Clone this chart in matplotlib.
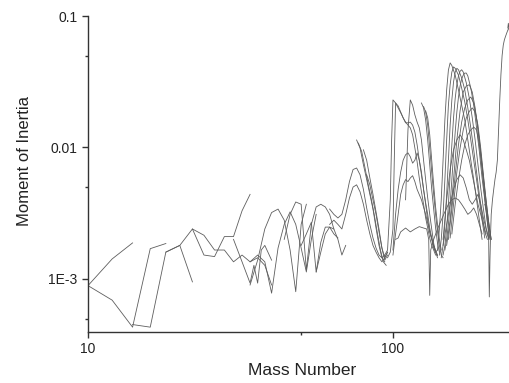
import matplotlib
matplotlib.use('Agg')
import matplotlib.pyplot as plt
from matplotlib.ticker import FixedLocator, FixedFormatter, NullFormatter

plt.rcParams['font.family'] = ['Liberation Sans', 'DejaVu Sans']

# ---------------- data (mass number A, moment of inertia I) ----------------
# light nuclei
s1_A = [10, 12, 14]
s1_I = [0.00089, 0.00142, 0.00188]
s2_A = [10, 12, 14, 16, 18]
s2_I = [0.00089, 0.00069, 0.00043, 0.0017, 0.00186]
s3_A = [14, 16, 18, 20, 22, 24, 26, 28, 30, 32, 34]
s3_I = [0.00045, 0.00043, 0.0016, 0.0018, 0.0024, 0.00152, 0.00148, 0.0021, 0.0021, 0.0033, 0.0044]
s4_A = [18, 20, 22]
s4_I = [0.0016, 0.0018, 0.00095]
s5_A = [22, 24, 26, 28, 30, 32, 34, 36, 38, 40]
s5_I = [0.0024, 0.00215, 0.00166, 0.00166, 0.00135, 0.00152, 0.00135, 0.00145, 0.00127, 0.0009]

# medium nuclei
mid1_A = [34, 36, 38, 40, 42, 44, 46, 48, 50, 52]
mid1_I = [0.0009, 0.00139, 0.0024, 0.0032, 0.0034, 0.0028, 0.00166, 0.0008, 0.0026, 0.0037]
mid2_A = [34, 36, 38, 40, 42, 44, 46, 48, 50, 52, 54, 56]
mid2_I = [0.00135, 0.00152, 0.00135, 0.00078, 0.00172, 0.0026, 0.00324, 0.0026, 0.00172, 0.00113, 0.002, 0.0031]
mid3_A = [30, 32, 34, 35, 36, 37, 38, 40]
mid3_I = [0.002, 0.00135, 0.00093, 0.00127, 0.00093, 0.00166, 0.0018, 0.00139]
mid4_A = [44, 46, 48, 50, 52, 54, 56, 58, 60, 62, 64]
mid4_I = [0.002, 0.0031, 0.00385, 0.0037, 0.00117, 0.0026, 0.00353, 0.0037, 0.00353, 0.0031, 0.0024]
mid5_A = [50, 52, 54, 56, 58, 60, 62, 64, 66]
mid5_I = [0.0018, 0.0022, 0.0027, 0.00113, 0.0019, 0.00248, 0.00248, 0.0022, 0.00205]

ar1_A = [62, 64, 66, 68, 70, 72, 74, 76, 78, 80, 82, 84, 86, 88, 90, 92, 94]
ar1_I = [0.0034, 0.0031, 0.00291, 0.0031, 0.004, 0.0055, 0.0068, 0.00698, 0.0062, 0.0048,
         0.00347, 0.0026, 0.00205, 0.00172, 0.00152, 0.00145, 0.00152]
ar2_A = [62, 64, 66, 68, 70, 72, 74, 76, 78, 80, 82, 84, 86, 88, 90, 92, 94, 96]
ar2_I = [0.0026, 0.0028, 0.0026, 0.0024, 0.0031, 0.00413, 0.005, 0.0052, 0.0046, 0.0037,
         0.0028, 0.0022, 0.0018, 0.0016, 0.00145, 0.00135, 0.00145, 0.0016]
ar3_A = [56, 58, 60, 62, 64, 66, 68, 70]
ar3_I = [0.00113, 0.0016, 0.0022, 0.00248, 0.0024, 0.002, 0.00152, 0.0018]

m1_A = [76, 78, 80, 82, 84, 86, 88, 90, 92, 94]
m1_I = [0.0114, 0.0099, 0.0074, 0.0057, 0.0044, 0.0034, 0.00244, 0.0018, 0.00145, 0.00135]
m2_A = [77, 79, 81, 83, 85, 87, 89, 91, 93, 95]
m2_I = [0.0108, 0.0093, 0.00698, 0.0052, 0.004, 0.003, 0.0022, 0.00166, 0.00135, 0.00127]
m3_A = [80, 82, 84, 86, 88, 90, 92, 94, 96]
m3_I = [0.0096, 0.008, 0.00586, 0.0044, 0.00324, 0.0024, 0.00172, 0.00145, 0.0016]
m4_A = [82, 84, 86, 88, 90, 92, 94, 96]
m4_I = [0.0062, 0.0052, 0.004, 0.0031, 0.00228, 0.00172, 0.00139, 0.00152]

# heavy nuclei
h1_A = [94, 96, 98, 99, 100, 102, 104, 106, 108, 110, 112, 114, 116, 118, 120, 122,
        124, 126, 128, 130, 132, 134, 136, 138]
h1_I = [0.00152, 0.00166, 0.004, 0.0114, 0.023, 0.0218, 0.02, 0.0184, 0.0168, 0.0156, 0.0148,
        0.0141, 0.0125, 0.0099, 0.0078, 0.00586, 0.0046, 0.0037, 0.00291, 0.00244, 0.00205,
        0.0018, 0.00166, 0.00152]
h2_A = [96, 98, 100, 101, 102, 104, 106, 108, 110, 112, 114, 116, 118, 120, 122, 124,
        126, 128, 130, 132, 134, 136, 138, 140]
h2_I = [0.00145, 0.0016, 0.0024, 0.008, 0.0218, 0.0207, 0.0186, 0.0168, 0.0154, 0.0154, 0.0156,
        0.0148, 0.0131, 0.0105, 0.008, 0.0062, 0.0048, 0.0038, 0.0031, 0.00244, 0.00205,
        0.00178, 0.0016, 0.0015]
h3_A = [110, 112, 114, 116, 118, 120, 122, 124, 126, 128, 130, 132, 134, 136, 138, 140]
h3_I = [0.004, 0.0136, 0.023, 0.021, 0.0177, 0.0156, 0.0141, 0.0114, 0.008, 0.0057, 0.00413,
        0.0031, 0.0024, 0.00187, 0.0016, 0.00145]
h4_A = [124, 126, 128, 130, 132, 134, 136, 138, 140, 142]
h4_I = [0.0218, 0.02, 0.0162, 0.0114, 0.0074, 0.0048, 0.0034, 0.00244, 0.00187, 0.0016]
h5_A = [128, 130, 132, 134, 136, 138, 140, 142, 144]
h5_I = [0.019, 0.0168, 0.0125, 0.008, 0.0052, 0.00353, 0.0026, 0.002, 0.00166]
h6_A = [126, 128, 130, 132, 134, 136, 138, 140, 142, 144, 146]
h6_I = [0.0205, 0.0186, 0.0148, 0.0099, 0.0065, 0.0044, 0.0031, 0.00228, 0.0018, 0.00152, 0.00145]

hl1_A = [100, 102, 104, 106, 108, 110, 112, 114, 116, 118, 120, 122, 124, 126, 128, 130,
         132, 134, 136, 138, 140]
hl1_I = [0.00166, 0.0031, 0.0048, 0.0065, 0.008, 0.0088, 0.0091, 0.0085, 0.0076, 0.008, 0.0091,
         0.008, 0.0065, 0.0048, 0.0037, 0.0028, 0.00228, 0.002, 0.00172, 0.0016, 0.00166]
hl2_A = [100, 102, 104, 106, 108, 110, 112, 114, 116, 118, 120, 124, 128, 132, 136, 140]
hl2_I = [0.00152, 0.0022, 0.0031, 0.0044, 0.0052, 0.0057, 0.0055, 0.00586, 0.0061, 0.0055,
         0.0048, 0.004, 0.0031, 0.00228, 0.0018, 0.00152]
low_A = [102, 104, 106, 110, 114, 118, 122, 126, 129, 131, 132, 133, 136, 140, 144, 148, 152,
         156, 160, 164, 168, 172, 176, 180, 184, 188, 192, 196]
low_I = [0.002, 0.00205, 0.00228, 0.00244, 0.00228, 0.0024, 0.0025, 0.00244, 0.0024, 0.002,
         0.00075, 0.00166, 0.002, 0.0024, 0.0028, 0.00324, 0.0037, 0.004, 0.00413, 0.004,
         0.0037, 0.0034, 0.0031, 0.00324, 0.00347, 0.0031, 0.0026, 0.0022]

g1_A = [140, 142, 144, 146, 148, 150, 152, 154, 156, 160, 164, 168, 172, 176, 180, 184, 188, 192, 196]
g1_I = [0.00166, 0.0024, 0.004, 0.008, 0.0162, 0.0274, 0.0388, 0.044, 0.042, 0.0355, 0.0274,
        0.021, 0.0162, 0.0114, 0.008, 0.0057, 0.004, 0.0028, 0.002]
g2_A = [142, 144, 146, 148, 150, 152, 154, 156, 158, 160, 164, 168, 172, 176, 180, 184, 188,
        192, 196, 200]
g2_I = [0.00152, 0.002, 0.0031, 0.0057, 0.0114, 0.021, 0.030, 0.0375, 0.041, 0.040, 0.0355,
        0.0283, 0.0222, 0.0162, 0.0114, 0.008, 0.0057, 0.004, 0.0028, 0.00205]
g3_A = [144, 146, 148, 150, 152, 154, 156, 158, 160, 162, 164, 168, 172, 176, 180, 184, 188,
        192, 196, 200, 204]
g3_I = [0.00145, 0.0018, 0.0026, 0.0044, 0.008, 0.0148, 0.023, 0.0315, 0.0375, 0.040, 0.039,
        0.0338, 0.0274, 0.020, 0.0141, 0.0096, 0.0065, 0.0044, 0.0031, 0.00228, 0.002]
g4_A = [146, 148, 150, 152, 154, 156, 158, 160, 162, 164, 166, 168, 170, 174, 178, 182, 186,
        190, 194, 198, 202, 206]
g4_I = [0.00152, 0.0018, 0.0024, 0.0037, 0.0062, 0.0105, 0.0168, 0.0237, 0.030, 0.035, 0.038,
        0.039, 0.0375, 0.031, 0.0237, 0.0168, 0.0114, 0.0074, 0.0049, 0.0034, 0.00244, 0.00205]
g5_A = [148, 150, 152, 154, 156, 158, 160, 162, 164, 166, 168, 170, 172, 174, 176, 180, 184,
        188, 192, 196, 200, 204, 208]
g5_I = [0.00166, 0.002, 0.0026, 0.0037, 0.0057, 0.0088, 0.0131, 0.0186, 0.0242, 0.0294, 0.0332,
        0.0355, 0.0368, 0.0368, 0.035, 0.0283, 0.021, 0.0141, 0.0093, 0.00586, 0.004, 0.0027, 0.00205]
g6_A = [150, 154, 158, 162, 166, 170, 174, 178, 182, 186, 190, 194, 198, 202, 206, 210]
g6_I = [0.0018, 0.0028, 0.0057, 0.0114, 0.019, 0.0264, 0.0294, 0.030, 0.0264, 0.020, 0.0136,
        0.0088, 0.0057, 0.0037, 0.0026, 0.002]
g7_A = [152, 156, 160, 164, 168, 172, 176, 180, 184, 188, 192, 196, 200, 204, 208]
g7_I = [0.002, 0.0034, 0.0062, 0.0105, 0.0156, 0.020, 0.023, 0.0242, 0.0218, 0.0168, 0.0114,
        0.0074, 0.0048, 0.00324, 0.00228]
g8_A = [154, 158, 162, 166, 170, 174, 178, 182, 186, 190, 194, 198, 202, 206, 210]
g8_I = [0.00205, 0.0037, 0.0065, 0.0099, 0.0136, 0.0168, 0.0188, 0.020, 0.0186, 0.0148, 0.0099,
        0.0062, 0.004, 0.0027, 0.002]
g9_A = [156, 160, 164, 168, 172, 176, 180, 184, 188, 192, 196, 200, 204, 208]
g9_I = [0.0022, 0.0037, 0.0057, 0.008, 0.0105, 0.0125, 0.0136, 0.0143, 0.0136, 0.0105, 0.0068,
        0.00413, 0.0027, 0.002]
gl1_A = [146, 150, 154, 158, 162, 166, 170, 174, 178, 182, 186, 190, 194, 198, 202]
gl1_I = [0.002, 0.004, 0.0068, 0.0096, 0.0114, 0.0125, 0.0114, 0.0096, 0.008, 0.0062, 0.0048,
         0.0037, 0.0031, 0.0026, 0.0022]
gl2_A = [146, 150, 154, 158, 162, 166, 170, 174, 178, 182, 186, 190, 194, 198, 202, 206]
gl2_I = [0.0018, 0.0026, 0.0037, 0.0048, 0.0057, 0.0062, 0.00586, 0.00492, 0.004, 0.0037,
         0.004, 0.0044, 0.0037, 0.00291, 0.0024, 0.002]

last_A = [200, 204, 206, 207, 208, 209, 210, 212, 214, 216, 218, 220, 222, 224, 226, 228, 230,
          232, 234, 236, 238, 240]
last_I = [0.0037, 0.0031, 0.002, 0.00073, 0.00139, 0.0022, 0.0031, 0.004, 0.0048, 0.0057,
          0.0065, 0.008, 0.0136, 0.023, 0.036, 0.050, 0.060, 0.066, 0.070, 0.074, 0.078, 0.081]
hook_A = [238, 239, 241]
hook_I = [0.081, 0.088, 0.076]

x_ticks = [10, 100]
x_labels = ['10', '100']
y_ticks = [0.001, 0.01, 0.1]
y_labels = ['1E-3', '0.01', '0.1']

series = [
    (s1_A, s1_I), (s2_A, s2_I), (s3_A, s3_I), (s4_A, s4_I), (s5_A, s5_I),
    (mid1_A, mid1_I), (mid2_A, mid2_I), (mid3_A, mid3_I), (mid4_A, mid4_I), (mid5_A, mid5_I),
    (ar1_A, ar1_I), (ar2_A, ar2_I), (ar3_A, ar3_I),
    (m1_A, m1_I), (m2_A, m2_I), (m3_A, m3_I), (m4_A, m4_I),
    (h1_A, h1_I), (h2_A, h2_I), (h3_A, h3_I), (h4_A, h4_I), (h5_A, h5_I), (h6_A, h6_I),
    (hl1_A, hl1_I), (hl2_A, hl2_I), (low_A, low_I),
    (g1_A, g1_I), (g2_A, g2_I), (g3_A, g3_I), (g4_A, g4_I), (g5_A, g5_I),
    (g6_A, g6_I), (g7_A, g7_I), (g8_A, g8_I), (g9_A, g9_I),
    (gl1_A, gl1_I), (gl2_A, gl2_I), (last_A, last_I), (hook_A, hook_I),
]

# ---------------- figure ----------------
fig = plt.figure(figsize=(5.10, 3.83), dpi=100)
ax = fig.add_axes([88 / 510, 51 / 383, 422 / 510, 316 / 383])

for A, I in series:
    ax.plot(A, I, color='#5e5e5e', lw=0.6)

ax.set_xscale('log')
ax.set_yscale('log')
ax.set_xlim(10, 242)
ax.set_ylim(3.95e-4, 0.1)

ax.xaxis.set_major_locator(FixedLocator(x_ticks))
ax.xaxis.set_major_formatter(FixedFormatter(x_labels))
ax.xaxis.set_minor_locator(FixedLocator([50]))
ax.xaxis.set_minor_formatter(NullFormatter())
ax.yaxis.set_major_locator(FixedLocator(y_ticks))
ax.yaxis.set_major_formatter(FixedFormatter(y_labels))
ax.yaxis.set_minor_locator(FixedLocator([5e-4, 5e-3, 5e-2]))
ax.yaxis.set_minor_formatter(NullFormatter())

for side in ('top', 'right'):
    ax.spines[side].set_visible(False)
for side in ('left', 'bottom'):
    ax.spines[side].set_color('#333333')
    ax.spines[side].set_linewidth(1.0)

ax.tick_params(which='major', direction='out', length=4.5, width=1.0, color='#333333',
               labelsize=10, pad=3, labelcolor='#222222')
ax.tick_params(which='minor', direction='out', length=2.5, width=1.0, color='#333333')

ax.set_xlabel('Mass Number', fontsize=12.5, color='#222222')
ax.xaxis.set_label_coords(0.507, -0.098)
ax.set_ylabel('Moment of Inertia', fontsize=12, color='#222222')
ax.yaxis.set_label_coords(-0.133, 0.54)

fig.savefig('out.png', dpi=100)
